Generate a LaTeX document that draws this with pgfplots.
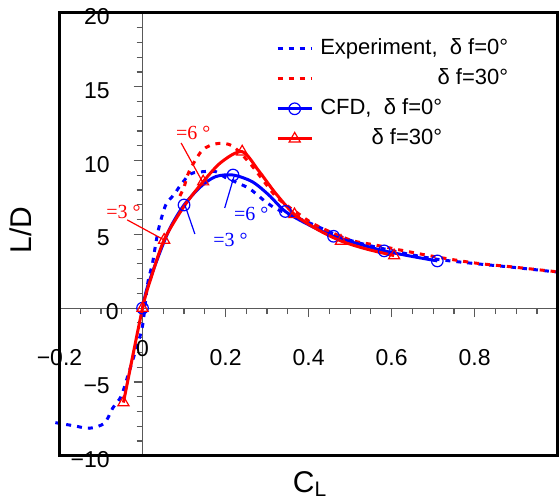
\documentclass[border=0pt]{standalone}
\usepackage{pgfplots}
\pgfplotsset{compat=1.18}
\usepackage{fontspec}
\setmainfont{Liberation Sans}
\newfontfamily\serif{Liberation Serif}
\newsavebox\expbox
\newsavebox\cfdbox
\pgfplotsset{
  circ legend/.style={legend image code/.code={\draw[##1] (0cm,0cm) -- (0.6cm,0cm); \draw[##1, line width=0.6pt] (0.3cm,0cm) circle[radius=2.9pt];}},
  tri legend/.style={legend image code/.code={\draw[##1] (0cm,0cm) -- (0.6cm,0cm); \draw[##1, line width=0.6pt] (0.3cm,3.2pt) -- ++(-2.77pt,-4.8pt) -- ++(5.54pt,0pt) -- cycle;}},
}
\begin{document}
\sbox\expbox{\fontsize{11}{13}\selectfont Experiment,\ \ δ f=0°}%
\sbox\cfdbox{\fontsize{11}{13}\selectfont CFD,\ \ δ f=0°}%
\begin{tikzpicture}
\begin{axis}[
  width=249.1pt, height=221.35pt, scale only axis,
  xmin=-0.2, xmax=1, ymin=-10, ymax=20,
  axis lines=middle,
  axis line style={-, black!65, line width=0.6pt},
  clip=false,
  xtick={-0.2,0,0.2,0.4,0.6,0.8,1},
  xticklabels={−0.2,0,0.2,0.4,0.6,0.8,{}},
  ytick={-10,-5,0,5,10,15,20},
  yticklabels={−10,−5,0,5,10,15,20},
  minor x tick num=3, minor y tick num=4,
  tick align=outside,
  major tick length=4.5pt, minor tick length=3pt,
  tick style={black!65, line width=0.6pt},
  ticklabel style={font=\fontsize{11.5}{13}\selectfont},
  xticklabel style={anchor=center, inner sep=0pt, yshift=-20pt},
  yticklabel style={anchor=east, inner sep=0pt, xshift=-11.7pt, yshift=-1.8pt},
  xlabel={C\textsubscript{L}}, ylabel={L/D},
  every axis x label/.style={at={(rel axis cs:0.503,0)}, anchor=north, inner sep=0pt, yshift=-7.7pt, font=\fontsize{15}{18}\selectfont},
  every axis y label/.style={at={(rel axis cs:-0.0773,0.51)}, anchor=center, rotate=90, inner sep=0pt, font=\fontsize{15}{18}\selectfont},
  legend style={at={(rel axis cs:0.434,1)}, anchor=north west, yshift=-10.2pt,
    draw=none, fill=none, inner sep=0pt, row sep=0pt, column sep=1.5pt,
    font=\fontsize{11}{13}\selectfont,
    nodes={inner sep=2pt, text height=8.5pt, text depth=2.5pt}},
  legend cell align=left,
]
% experiment, flap 0
\addplot[blue, line width=1.5pt, dash pattern=on 2.5pt off 3pt, smooth] coordinates {
  (-0.21,-7.76) (-0.164,-7.98) (-0.128,-8.14) (-0.092,-7.8) (-0.072,-6.78)
  (-0.052,-6.0) (-0.036,-4.64) (-0.018,-3.0) (0,-1.2) (0.012,1.6)
  (0.024,3.04) (0.032,4.4) (0.04,5.52) (0.056,7.0) (0.076,7.7)
  (0.092,8.35) (0.116,9.1) (0.148,9.25) (0.176,9.25) (0.2,8.85)
  (0.256,8.12) (0.296,7.22) (0.328,6.65) (0.4,5.8) (0.5,4.6)
  (0.6,3.9) (0.7,3.35) (0.8,3.02) (0.888,2.78) (0.996,2.45)
};
\addlegendentry{Experiment,\ \ δ f=0°}
% experiment, flap 30
\addplot[red, line width=1.5pt, dash pattern=on 2.5pt off 3pt, smooth] coordinates {
  (0.09,7.6) (0.1,8.2) (0.112,9.25) (0.144,10.7) (0.18,11.15)
  (0.216,11.0) (0.256,9.9) (0.284,8.9) (0.32,7.6) (0.348,6.95)
  (0.368,6.55) (0.416,5.64) (0.5,4.62) (0.56,4.28) (0.64,3.83)
  (0.704,3.49) (0.8,3.06) (0.888,2.8) (0.996,2.47)
};
\addlegendentry{\makebox[\wd\expbox][r]{δ f=30°}}
% CFD, flap 0
\addplot[blue, line width=1.5pt, smooth, circ legend] coordinates {
  (0,0) (0.012,1.46) (0.044,3.94) (0.068,5.52) (0.1,6.99)
  (0.14,8.23) (0.176,8.91) (0.218,9.02) (0.264,8.57) (0.304,7.67)
  (0.344,6.55) (0.4,5.65) (0.46,4.87) (0.52,4.35) (0.582,3.88)
  (0.65,3.5) (0.71,3.2)
};
\addlegendentry{CFD,\ \ δ f=0°}
% CFD, flap 30
\addplot[red, line width=1.5pt, smooth, tri legend] coordinates {
  (-0.046,-6.4) (0,0) (0.02,2.0) (0.052,4.62) (0.1,6.9)
  (0.146,8.57) (0.19,9.9) (0.24,10.6) (0.28,9.3) (0.32,7.8)
  (0.366,6.35) (0.42,5.35) (0.478,4.55) (0.54,4.0) (0.606,3.56)
};
\addlegendentry{\makebox[\wd\cfdbox][r]{δ f=30°}}
% CFD markers
\addplot[blue, only marks, mark=o, mark size=2.9pt, mark options={line width=0.6pt}, forget plot] coordinates {
  (0,0) (0.1,6.99) (0.218,9.02) (0.344,6.55) (0.46,4.87) (0.582,3.88) (0.71,3.2)
};
\addplot[red, only marks, mark=triangle, mark size=3.2pt, mark options={line width=0.6pt}, forget plot] coordinates {
  (-0.046,-6.4) (0,0) (0.052,4.62) (0.146,8.57) (0.24,10.6) (0.366,6.35) (0.478,4.55) (0.606,3.56)
};
% zero labels hidden by the centred axes
\node[font=\fontsize{11.5}{13}\selectfont, inner sep=0pt, yshift=-20pt] at (axis cs:0,0) {0};
\node[font=\fontsize{11.5}{13}\selectfont, inner sep=0pt, anchor=east, xshift=-11.7pt, yshift=-1.8pt] at (axis cs:0,0) {0};
% annotations
\draw[red, line width=0.6pt] (axis cs:-0.037,5.98) -- (axis cs:0.052,4.62);
\node[red, font=\serif\fontsize{10}{12}\selectfont] at (axis cs:-0.046,6.52) {=3 °};
\draw[red, line width=0.6pt] (axis cs:0.093,11.19) -- (axis cs:0.146,8.48);
\node[red, font=\serif\fontsize{10}{12}\selectfont] at (axis cs:0.122,11.87) {=6 °};
\draw[blue, line width=0.6pt] (axis cs:0.22,8.89) -- (axis cs:0.198,6.79);
\node[blue, font=\serif\fontsize{10}{12}\selectfont] at (axis cs:0.262,6.35) {=6 °};
\draw[blue, line width=0.6pt] (axis cs:0.102,6.99) -- (axis cs:0.126,5.03);
\node[blue, font=\serif\fontsize{10}{12}\selectfont] at (axis cs:0.212,4.6) {=3 °};
% frame
\draw[line width=1.5pt, black] (rel axis cs:0,0) rectangle (rel axis cs:1,1);
\coordinate (bl) at (rel axis cs:0,0);
\coordinate (tr) at (rel axis cs:1,1);
\end{axis}
\pgfresetboundingbox
\path ([shift={(-29.75pt,-22.65pt)}]bl) rectangle ([shift={(1.15pt,6.5pt)}]tr);
\end{tikzpicture}
\end{document}
